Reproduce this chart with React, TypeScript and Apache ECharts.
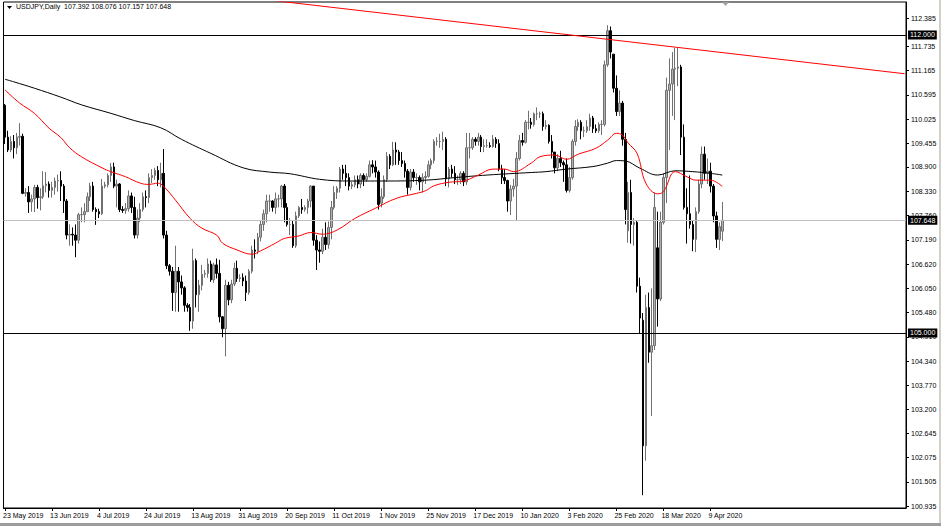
import React, { useEffect, useRef } from "react";
import * as echarts from "echarts";

// [open, close, low, high]
const may2019 = [
  [110.35, 109.6, 109.44, 110.38], [109.6, 109.3, 109.25, 109.75], [109.3, 109.5, 109.25, 109.62],
  [109.5, 109.35, 109.1, 109.65], [109.35, 109.6, 109.2, 109.7], [109.6, 109.62, 109.4, 109.93],
  [109.62, 108.28, 108.26, 109.68],
];
const jun2019 = [
  [108.28, 108.3, 108.2, 108.4], [108.3, 108.08, 107.82, 108.45], [108.08, 108.15, 107.85, 108.25],
  [108.15, 108.42, 107.84, 108.48], [108.42, 108.18, 107.92, 108.48], [108.18, 108.2, 107.88, 108.4],
  [108.2, 108.46, 108.15, 108.8], [108.46, 108.5, 108.3, 108.78], [108.5, 108.35, 108.18, 108.56],
  [108.35, 108.42, 108.18, 108.55], [108.42, 108.57, 108.25, 108.65], [108.57, 108.58, 108.32, 108.72],
  [108.58, 108.45, 108.1, 108.8], [108.45, 108.1, 107.82, 108.5], [108.1, 107.3, 107.2, 108.15],
  [107.3, 107.32, 107.05, 107.55], [107.32, 107.3, 107.05, 107.48], [107.3, 107.18, 106.78, 107.55],
  [107.18, 107.78, 107.1, 107.82], [107.78, 107.78, 107.6, 107.95], [107.78, 107.85, 107.6, 108.05],
  [107.85, 108.2, 107.85, 108.3],
];
const jul2019 = [
  [108.2, 108.45, 108.1, 108.53], [108.45, 107.9, 107.85, 108.55], [107.9, 107.85, 107.54, 107.95],
  [107.85, 107.8, 107.7, 107.92], [107.8, 108.45, 107.77, 108.62], [108.45, 108.48, 108.4, 108.55],
  [108.48, 108.7, 108.42, 108.75], [108.7, 108.9, 108.55, 108.99], [108.9, 108.45, 108.4, 109.0],
  [108.45, 108.5, 107.95, 108.6], [108.5, 107.9, 107.84, 108.52], [107.9, 107.88, 107.82, 107.98],
  [107.88, 107.92, 107.8, 108.05], [107.92, 108.22, 107.85, 108.35], [108.22, 107.95, 107.82, 108.3],
  [107.95, 107.3, 107.22, 108.2], [107.3, 107.7, 107.22, 107.9], [107.7, 107.9, 107.6, 108.05],
  [107.9, 108.2, 107.85, 108.3], [108.2, 108.18, 107.95, 108.35], [108.18, 108.65, 108.05, 108.75],
  [108.65, 108.7, 108.52, 108.85], [108.7, 108.82, 108.6, 108.88], [108.82, 108.6, 108.45, 108.92],
  [108.6, 108.75, 108.42, 109.0],
];
const aug2019 = [
  [108.75, 107.3, 107.22, 109.32], [107.3, 106.58, 106.5, 107.4], [106.58, 106.45, 106.35, 106.62],
  [106.45, 105.95, 105.52, 106.55], [105.95, 106.45, 105.5, 107.05], [106.45, 106.2, 105.5, 106.55],
  [106.2, 106.06, 105.9, 106.35], [106.06, 105.65, 105.5, 106.1], [105.65, 105.6, 105.5, 105.7],
  [105.6, 105.28, 105.05, 105.68], [105.28, 106.7, 105.1, 106.98], [106.7, 105.9, 105.6, 106.75],
  [105.9, 106.12, 105.5, 106.25], [106.12, 106.38, 106.0, 106.6], [106.38, 106.4, 106.3, 106.48],
  [106.4, 106.62, 106.3, 106.75], [106.62, 106.25, 106.2, 106.7], [106.25, 106.6, 106.18, 106.65],
  [106.6, 106.4, 106.28, 106.75], [106.4, 105.38, 105.25, 106.72], [105.38, 105.1, 104.9, 105.4],
  [105.1, 106.12, 104.45, 106.25], [106.12, 105.78, 105.65, 106.2], [105.78, 106.15, 105.7, 106.25],
  [106.15, 106.52, 106.1, 106.65], [106.52, 106.28, 106.2, 106.7], [106.28, 106.3, 106.2, 106.38],
];
const sep2019 = [
  [106.3, 106.22, 106.1, 106.4], [106.22, 105.95, 105.75, 106.35], [105.95, 106.45, 105.9, 106.5],
  [106.45, 106.95, 106.4, 107.05], [106.95, 106.92, 106.75, 107.2], [106.92, 107.25, 106.85, 107.35],
  [107.25, 107.55, 107.15, 107.65], [107.55, 107.8, 107.4, 107.9], [107.8, 108.1, 107.6, 108.25],
  [108.1, 108.1, 107.85, 108.25], [108.1, 107.95, 107.85, 108.12], [107.95, 108.15, 107.8, 108.3],
  [108.15, 108.15, 107.95, 108.25], [108.15, 108.45, 107.95, 108.48], [108.45, 107.95, 107.6, 108.5],
  [107.95, 107.55, 107.5, 108.05], [107.55, 107.55, 107.3, 107.7], [107.55, 107.05, 107.0, 107.65],
  [107.05, 107.75, 107.0, 107.85], [107.75, 107.95, 107.7, 107.98], [107.95, 107.9, 107.8, 108.15],
  [107.9, 107.95, 107.85, 108.0], [107.95, 108.1, 107.8, 108.15],
];
const oct2019 = [
  [108.1, 108.45, 107.95, 108.47], [108.45, 107.18, 107.05, 108.45], [107.18, 106.95, 106.48, 107.3],
  [106.95, 106.92, 106.65, 107.15], [106.92, 107.25, 106.85, 107.45], [107.25, 107.08, 106.95, 107.6],
  [107.08, 107.48, 106.98, 107.62], [107.48, 107.95, 107.2, 108.1], [107.95, 108.3, 107.9, 108.45],
  [108.3, 108.4, 108.15, 108.45], [108.4, 108.85, 108.3, 108.9], [108.85, 108.75, 108.6, 108.95],
  [108.75, 108.65, 108.45, 108.95], [108.65, 108.45, 108.35, 108.75], [108.45, 108.48, 108.38, 108.55],
  [108.48, 108.6, 108.42, 108.7], [108.6, 108.5, 108.4, 108.7], [108.5, 108.7, 108.4, 108.75],
  [108.7, 108.6, 108.45, 108.75], [108.6, 108.68, 108.55, 108.75], [108.68, 108.95, 108.65, 109.05],
  [108.95, 108.9, 108.75, 109.06], [108.9, 108.78, 108.65, 109.05], [108.78, 108.02, 107.9, 108.82],
];
const nov2019 = [
  [108.05, 108.2, 107.95, 108.4], [108.2, 108.6, 108.15, 108.7], [108.6, 109.15, 108.55, 109.25],
  [109.15, 108.95, 108.85, 109.2], [108.95, 109.3, 108.92, 109.49], [109.3, 109.25, 108.95, 109.48],
  [109.25, 109.05, 108.95, 109.3], [109.05, 108.98, 108.9, 109.25], [108.98, 108.8, 108.65, 109.05],
  [108.8, 108.42, 108.25, 108.85], [108.42, 108.78, 108.35, 108.85], [108.78, 108.65, 108.55, 108.85],
  [108.65, 108.65, 108.48, 108.75], [108.65, 108.55, 108.35, 108.7], [108.55, 108.65, 108.3, 108.75],
  [108.65, 108.68, 108.5, 108.8], [108.68, 108.95, 108.65, 109.05], [108.95, 109.05, 108.85, 109.1],
  [109.05, 109.5, 108.98, 109.55], [109.5, 109.5, 109.4, 109.6], [109.5, 109.5, 109.35, 109.68],
];
const dec2019 = [
  [109.5, 109.55, 109.3, 109.73], [109.55, 108.62, 108.45, 109.6], [108.62, 108.85, 108.42, 108.9],
  [108.85, 108.75, 108.65, 108.95], [108.75, 108.6, 108.5, 108.92], [108.6, 108.6, 108.48, 108.7],
  [108.6, 108.75, 108.5, 108.8], [108.75, 108.55, 108.45, 108.8], [108.55, 109.35, 108.48, 109.7],
  [109.35, 109.35, 109.1, 109.7], [109.35, 109.55, 109.3, 109.6], [109.55, 109.5, 109.4, 109.6],
  [109.5, 109.6, 109.4, 109.7], [109.6, 109.38, 109.25, 109.65], [109.38, 109.4, 109.25, 109.55],
  [109.4, 109.4, 109.35, 109.55], [109.4, 109.38, 109.35, 109.48], [109.38, 109.55, 109.35, 109.65],
  [109.55, 109.45, 109.35, 109.6], [109.45, 108.85, 108.8, 109.55], [108.85, 108.65, 108.5, 108.95],
];
const jan2020 = [
  [108.65, 108.58, 108.5, 108.85], [108.58, 108.1, 107.85, 108.6], [108.1, 108.38, 107.77, 108.48],
  [108.38, 108.45, 108.2, 108.62], [108.45, 109.1, 107.65, 109.25], [109.1, 109.52, 109.05, 109.65],
  [109.52, 109.48, 109.4, 109.7], [109.48, 109.95, 109.45, 110.0], [109.95, 109.95, 109.78, 110.22],
  [109.95, 109.9, 109.8, 110.05], [109.9, 110.15, 109.85, 110.18], [110.15, 110.15, 110.0, 110.3],
  [110.15, 110.15, 110.05, 110.2], [110.15, 109.85, 109.75, 110.2], [109.85, 109.88, 109.78, 110.0],
  [109.88, 109.5, 109.45, 109.9], [109.5, 109.25, 109.1, 109.65], [109.25, 108.88, 108.75, 109.25],
  [108.88, 109.1, 108.8, 109.2], [109.1, 109.0, 108.9, 109.28], [109.0, 108.95, 108.55, 109.05],
  [108.95, 108.35, 108.3, 109.1],
];
const feb2020 = [
  [108.35, 108.65, 108.3, 108.9], [108.65, 109.5, 108.6, 109.55], [109.5, 109.85, 109.4, 110.0],
  [109.85, 109.95, 109.75, 110.02], [109.95, 109.75, 109.55, 110.0], [109.75, 109.75, 109.6, 109.85],
  [109.75, 109.85, 109.7, 110.0], [109.85, 110.05, 109.75, 110.15], [110.05, 109.8, 109.7, 110.1],
  [109.8, 109.75, 109.7, 109.9], [109.75, 109.9, 109.7, 109.95], [109.9, 109.9, 109.65, 110.0],
  [109.9, 111.3, 109.85, 111.4], [111.3, 112.1, 111.25, 112.23], [112.1, 111.6, 111.45, 112.2],
  [111.55, 110.75, 110.65, 111.55], [110.75, 110.2, 110.1, 111.05], [110.2, 110.4, 110.1, 110.7],
  [110.4, 109.55, 109.4, 110.45], [109.55, 107.9, 107.55, 109.7],
];
const mar2020 = [
  [107.4, 108.3, 107.12, 108.55], [108.3, 107.55, 107.1, 108.6], [107.55, 107.6, 107.05, 107.7],
  [107.6, 106.1, 105.95, 107.65], [106.1, 105.35, 105.0, 106.3], [105.3, 102.35, 101.19, 105.47],
  [102.35, 105.6, 102.0, 105.9], [105.6, 104.55, 104.3, 105.95], [104.55, 104.7, 103.05, 106.05],
  [104.7, 107.95, 104.6, 108.3], [107.0, 105.8, 105.15, 107.85], [105.8, 107.6, 105.75, 107.85],
  [107.6, 108.65, 107.55, 108.75], [108.65, 110.7, 108.05, 111.0], [110.7, 110.85, 109.3, 111.45],
  [110.85, 111.2, 110.1, 111.6], [111.2, 111.22, 110.0, 111.7], [111.22, 111.25, 110.8, 111.7],
  [111.25, 109.6, 109.18, 111.3], [109.6, 107.95, 107.9, 109.9], [107.95, 107.8, 107.1, 108.4],
  [107.8, 107.55, 107.45, 108.7],
];
const apr2020 = [
  [107.55, 107.2, 106.92, 107.65], [107.2, 107.85, 106.9, 107.95], [107.85, 108.5, 107.8, 108.6],
  [108.5, 109.2, 108.4, 109.38], [109.2, 108.75, 108.6, 109.38], [108.75, 108.8, 108.5, 109.1],
  [108.8, 108.45, 108.3, 109.0], [108.45, 107.75, 107.6, 108.5], [107.75, 107.2, 107.0, 107.85],
  [107.2, 107.5, 106.95, 107.6], [107.392, 107.648, 107.157, 108.076],
];

// moving averages: [bar index, price]
const maFast = [
  [0, 110.71], [5, 110.4], [10, 110.16], [15, 109.81], [19, 109.59], [22, 109.35], [26, 109.14],
  [33, 108.88], [36, 108.79], [41, 108.67], [46, 108.52], [49, 108.49], [52, 108.52], [54, 108.44],
  [58, 108.12], [63, 107.69], [67, 107.46], [72, 107.3], [74, 107.11], [79, 106.95], [84, 106.85],
  [87, 106.93], [92, 107.11], [95, 107.22], [100, 107.28], [104, 107.36], [108, 107.32], [113, 107.42],
  [119, 107.69], [126, 107.93], [133, 108.16], [140, 108.28], [143, 108.34], [146, 108.46], [151, 108.54],
  [156, 108.57], [161, 108.71], [166, 108.85], [170, 108.85], [173, 108.79], [179, 108.99], [182, 109.14],
  [187, 109.18], [191, 109.08], [195, 109.2], [201, 109.34], [205, 109.53], [208, 109.69], [210, 109.65],
  [212, 109.46], [215, 109.22], [218, 108.52], [222, 108.27], [224, 108.32], [228, 108.79], [232, 108.67],
  [235, 108.59], [240, 108.59], [244, 108.44],
];
const maSlow = [
  [0, 110.96], [3, 110.9], [10, 110.75], [19, 110.54], [26, 110.36], [36, 110.16], [44, 109.99],
  [53, 109.82], [60, 109.55], [70, 109.22], [81, 108.88], [90, 108.78], [97, 108.74], [107, 108.61],
  [117, 108.57], [129, 108.57], [143, 108.59], [153, 108.65], [164, 108.71], [179, 108.77], [184, 108.79],
  [191, 108.85], [200, 108.91], [205, 108.99], [208, 109.05], [211, 109.04], [216, 108.87], [222, 108.71],
  [228, 108.81], [234, 108.79], [240, 108.75], [244, 108.71],
];
const trendLine = [[80, 112.9], [306, 111.09]];
const levels = [112.0, 105.0];
const bidPrice = 107.648;

const tickLabels = [
  "23 May 2019", "13 Jun 2019", "4 Jul 2019", "24 Jul 2019", "13 Aug 2019", "31 Aug 2019",
  "20 Sep 2019", "11 Oct 2019", "1 Nov 2019", "25 Nov 2019", "17 Dec 2019", "10 Jan 2020",
  "3 Feb 2020", "25 Feb 2020", "18 Mar 2020", "9 Apr 2020",
];
const priceTicks = [
  112.385, 111.735, 111.165, 110.595, 110.025, 109.455, 108.9, 108.33, 107.76, 107.19, 106.62,
  106.05, 105.48, 104.91, 104.34, 103.77, 103.2, 102.645, 102.075, 101.505, 100.935,
];
const symbolName = "USDJPY,Daily";

const FONT = "Liberation Sans";

export default function App() {
  const ref = useRef<HTMLDivElement>(null);
  useEffect(() => {
    const chart = echarts.init(ref.current!, null, { renderer: "svg" });
    const candles = [
      ...may2019, ...jun2019, ...jul2019, ...aug2019, ...sep2019, ...oct2019,
      ...nov2019, ...dec2019, ...jan2020, ...feb2020, ...mar2020, ...apr2020,
    ];
    const slots = 307;
    const cats = Array.from({ length: slots }, (_, i) => String(i));
    const step = 16;
    const isLabel = (i: number) => i % step === 0 && i / step < tickLabels.length;
    const last = candles[candles.length - 1];
    const header = `${symbolName}  ${last[0].toFixed(3)} ${last[3].toFixed(3)} ${last[2].toFixed(3)} ${last[1].toFixed(3)}`;

    const boxLabel = {
      show: true,
      position: "end",
      distance: 2,
      formatter: (p: any) => Number(p.value).toFixed(3),
      backgroundColor: "#000",
      color: "#fff",
      fontFamily: FONT,
      fontSize: 7,
      padding: [1, 2, 1, 2],
    };

    chart.setOption({
      animation: false,
      backgroundColor: "#fff",
      grid: {
        left: 3, top: 2, right: 35, bottom: 18,
        show: true, borderColor: "#000", borderWidth: 1, backgroundColor: "#fff",
      },
      xAxis: {
        type: "category",
        data: cats,
        boundaryGap: true,
        axisLine: { show: true, lineStyle: { color: "#000", width: 1 } },
        axisTick: { show: true, interval: (i: number) => isLabel(i), alignWithLabel: true, length: 3, lineStyle: { color: "#000" } },
        axisLabel: {
          interval: (i: number) => isLabel(i),
          formatter: (_v: string, i: number) => tickLabels[i / step] ?? "",
          align: "left",
          margin: 4,
          color: "#000",
          fontFamily: FONT,
          fontSize: 7,
          padding: [0, 0, 0, -2],
        },
        splitLine: { show: false },
      },
      yAxis: {
        type: "value",
        position: "right",
        min: 100.889,
        max: 112.775,
        scale: true,
        axisLine: { show: true, lineStyle: { color: "#000" } },
        axisTick: { show: true, length: 3, customValues: priceTicks, lineStyle: { color: "#000" } },
        axisLabel: {
          customValues: priceTicks,
          formatter: (v: number) => v.toFixed(3),
          margin: 5,
          color: "#000",
          fontFamily: FONT,
          fontSize: 7,
        },
        splitLine: { show: false },
      },
      series: [
        {
          type: "candlestick",
          data: candles,
          barWidth: 2,
          itemStyle: {
            color: "#b0b0b0",
            color0: "#000",
            borderColor: "#707070",
            borderColor0: "#000",
            borderWidth: 1,
          },
          markLine: {
            silent: true,
            symbol: ["none", "none"],
            precision: 3,
            data: [
              { yAxis: levels[0], lineStyle: { color: "#000", width: 1, type: "solid" }, label: boxLabel },
              { yAxis: levels[1], lineStyle: { color: "#000", width: 1, type: "solid" }, label: boxLabel },
              { yAxis: bidPrice, lineStyle: { color: "#c0c0c0", width: 1, type: "solid" }, label: boxLabel },
            ],
          },
          z: 3,
        },
        {
          type: "line",
          data: maSlow,
          smooth: 0.4,
          showSymbol: false,
          lineStyle: { color: "#000", width: 1 },
          z: 4,
        },
        {
          type: "line",
          data: maFast,
          smooth: 0.4,
          showSymbol: false,
          lineStyle: { color: "#ff0000", width: 1 },
          z: 4,
        },
        {
          type: "line",
          data: trendLine,
          showSymbol: false,
          clip: true,
          lineStyle: { color: "#ff0000", width: 1 },
          z: 5,
        },
      ],
      graphic: [
        { type: "polygon", shape: { points: [[7, 6], [12, 6], [9.5, 9]] }, style: { fill: "#000" } },
        {
          type: "text", left: 16, top: 3,
          style: { text: header, fontFamily: FONT, fontSize: 7, fill: "#000" },
        },
        { type: "polygon", shape: { points: [[722, 2], [729, 2], [725.5, 6]] }, style: { fill: "#a0a0a0" } },
        { type: "rect", shape: { x: 0, y: 523, width: 941, height: 3 }, style: { fill: "#9c9c9c" } },
        { type: "rect", shape: { x: 939, y: 0, width: 2, height: 523 }, style: { fill: "#d4d0c8" } },
      ],
    });
    return () => chart.dispose();
  }, []);
  return (
    <div
      ref={ref}
      style={{ position: "fixed", left: 0, top: 0, width: 941, height: 526, background: "#fff" }}
    />
  );
}
